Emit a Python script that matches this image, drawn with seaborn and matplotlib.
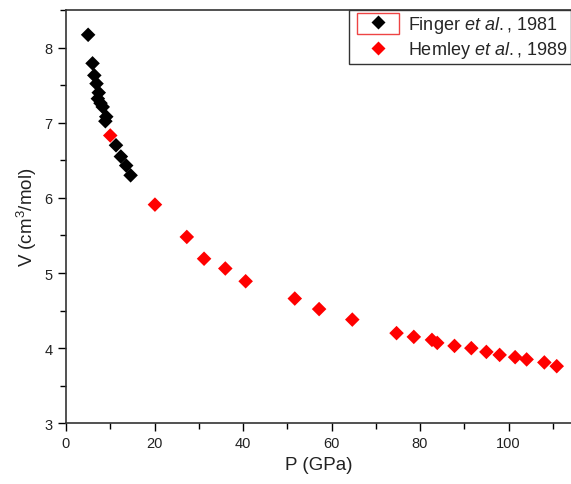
import matplotlib
matplotlib.use("Agg")
import matplotlib.pyplot as plt
import seaborn as sns
import pandas as pd
from matplotlib.ticker import MultipleLocator
from matplotlib.patches import Rectangle

sns.set_style("ticks")
plt.rcParams['font.family'] = ['Liberation Sans', 'DejaVu Sans']
plt.rcParams['mathtext.fontset'] = 'custom'
plt.rcParams['mathtext.rm'] = 'Liberation Sans'
plt.rcParams['mathtext.it'] = 'Liberation Sans:italic'

finger_P = [5.0, 6.0, 6.4, 6.9, 7.4, 7.2, 7.8, 8.3, 9.1, 8.9, 11.3, 12.4, 13.6, 14.6]
finger_V = [8.17, 7.79, 7.63, 7.52, 7.40, 7.32, 7.26, 7.21, 7.08, 7.02, 6.70, 6.55, 6.43, 6.30]

hemley_P = [10.0, 20.1, 27.3, 31.2, 36.0, 40.6, 51.7, 57.2, 64.7, 74.7, 78.6, 82.7, 83.9,
            87.8, 91.6, 95.0, 98.0, 101.5, 104.1, 108.1, 110.9]
hemley_V = [6.83, 5.91, 5.48, 5.19, 5.06, 4.89, 4.66, 4.52, 4.38, 4.20, 4.15, 4.11, 4.07,
            4.03, 4.00, 3.95, 3.91, 3.88, 3.85, 3.81, 3.76]

label_finger = "Finger $\\it{et\\ al.}$, 1981"
label_hemley = "Hemley $\\it{et\\ al.}$, 1989"

df = pd.concat([
    pd.DataFrame({"P": finger_P, "V": finger_V, "src": label_finger}),
    pd.DataFrame({"P": hemley_P, "V": hemley_V, "src": label_hemley}),
])

W, H = 571, 485
fig = plt.figure(figsize=(W/100, H/100), dpi=100)
ax = fig.add_axes([66/W, 60.7/H, 1 - 66/W, (424.3 - 11)/H])

sns.scatterplot(data=df, x="P", y="V", hue="src",
                palette={label_finger: "black", label_hemley: "red"},
                marker="D", s=55, edgecolor="none", ax=ax, zorder=3)

ax.set_xlim(0, 505/4.425)
ax.set_ylim(3, 8.5)
ax.xaxis.set_major_locator(MultipleLocator(20))
ax.xaxis.set_minor_locator(MultipleLocator(10))
ax.yaxis.set_major_locator(MultipleLocator(1))
ax.yaxis.set_minor_locator(MultipleLocator(0.5))
ax.tick_params(which='major', direction='out', length=6, width=1, labelsize=10.5, color='black', labelcolor='#222222')
ax.tick_params(which='minor', direction='out', length=4, width=1, color='black')
ax.tick_params(top=False, right=False, which='both')
for sp in ['left', 'bottom', 'top']:
    ax.spines[sp].set_color('#333333')
    ax.spines[sp].set_linewidth(1.2)
ax.spines['right'].set_visible(False)

ax.set_xlabel("P (GPa)", fontsize=13.5, color='#222222')
ax.set_ylabel("V (cm$^3$/mol)", fontsize=13.5, color='#222222')

leg = ax.legend(loc='upper left', bbox_to_anchor=((349 - 66)/505, 1.0), fontsize=13, frameon=True,
                fancybox=False, edgecolor='#333333', framealpha=1, handletextpad=0.25,
                handlelength=2.8, borderpad=0.2, borderaxespad=0.0,
                labelspacing=0.25, markerscale=1.0, title=None)
leg.get_frame().set_linewidth(1.0)

# selection-highlight box around the first legend symbol, as in the reference
fig.patches.append(Rectangle((357/W, 1 - 35/H), 42/W, 21/H, transform=fig.transFigure,
                             fill=False, edgecolor='#ee4444', linewidth=1.0, zorder=10))

fig.savefig("out.png", dpi=100)
